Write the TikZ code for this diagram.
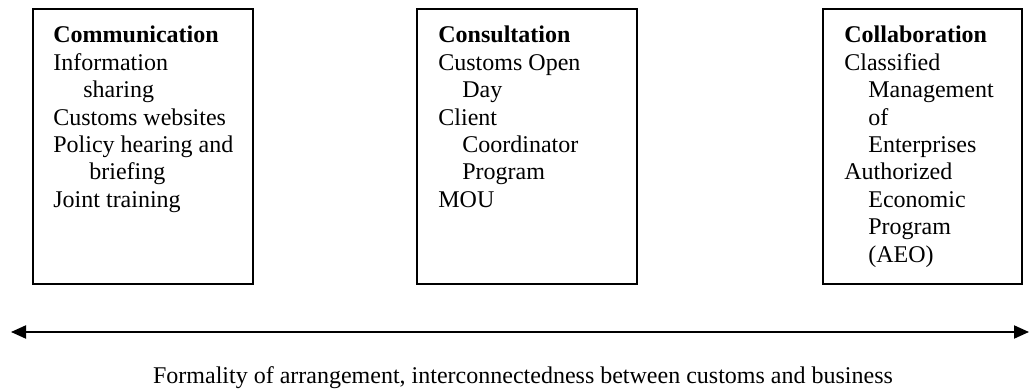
\documentclass[tikz,border=0pt]{standalone}
\usepackage{fontspec}
\setmainfont{Liberation Serif}
\usetikzlibrary{arrows.meta}
\begin{document}
\begin{tikzpicture}[x=0.5pt, y=-0.5pt,
  stagebox/.style={draw, line width=0.8pt, rectangle, inner sep=0pt,
    minimum width=110pt, minimum height=137.5pt},
  entry/.style={anchor=base west, inner sep=0pt, font=\fontsize{12}{14}\selectfont},
  caption/.style={anchor=base, inner sep=0pt, font=\fontsize{12}{14}\selectfont},
  continuum/.style={line width=1pt, {Triangle[length=7.5pt,width=6.5pt]}-{Triangle[length=7.5pt,width=6.5pt]}}]
  \useasboundingbox (0,0) rectangle (1030,390);

  % the three stages of customs-business partnership
  \node[stagebox] (comm) at (143,146.5) {};
  \node[stagebox] (cons) at (527,146.5) {};
  \node[stagebox, minimum width=99.5pt] (coll) at (922.5,146.5) {};

  \foreach \t [count=\i] in {\textbf{Communication}, Information,
      \hspace{15pt}sharing, Customs websites, Policy hearing and,
      \hspace{18pt}briefing, Joint training}
    \node[entry] (comm-\i) at (53,{43+27.4*(\i-1)}) {\t};

  \foreach \t [count=\i] in {\textbf{Consultation}, Customs Open,
      \hspace{12pt}Day, Client, \hspace{12pt}Coordinator,
      \hspace{12pt}Program, MOU}
    \node[entry] (cons-\i) at (438,{43+27.4*(\i-1)}) {\t};

  \foreach \t [count=\i] in {\textbf{Collaboration}, Classified,
      \hspace{12pt}Management, \hspace{12pt}of, \hspace{12pt}Enterprises,
      Authorized, \hspace{12pt}Economic, \hspace{12pt}Program,
      \hspace{12pt}(AEO)}
    \node[entry] (coll-\i) at (844,{43+27.4*(\i-1)}) {\t};

  % the continuum beneath the stages
  \coordinate (lo) at (11,332);
  \coordinate (hi) at (1029,332);
  \draw[continuum] (lo) -- (hi);
  \node[caption] (axis) at (523,384)
    {Formality of arrangement, interconnectedness between customs and business};
\end{tikzpicture}
\end{document}
